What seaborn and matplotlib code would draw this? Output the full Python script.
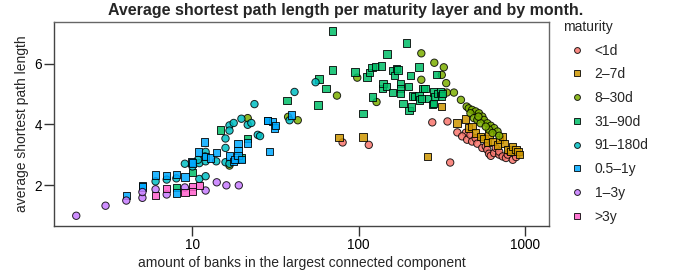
import pandas as pd
import matplotlib
matplotlib.use("Agg")
import matplotlib.pyplot as plt
import seaborn as sns
from matplotlib.ticker import FixedLocator, FuncFormatter, NullLocator

maturities = ["<1d", "2–7d", "8–30d", "31–90d", "91–180d", "0.5–1y", "1–3y", ">3y"]
colors = ["#F8766D", "#CD9600", "#7CAE00", "#00BE67",
          "#00BFC4", "#00A9FF", "#C77CFF", "#FF61CC"]
shapes = ["o", "s", "o", "s", "o", "s", "o", "s"]

# (banks in largest component, average shortest path length) per maturity layer
x_1d = [80, 115, 277, 342, 355, 392, 441, 419, 449, 470, 481, 505, 517, 554, 581,
        594, 608, 623, 653, 668, 700, 700, 734, 769, 788, 806, 845, 885]
y_1d = [3.41, 3.33, 4.07, 4.10, 2.75, 3.74, 3.73, 3.61, 3.50, 3.66, 3.44, 3.55, 3.37,
        3.23, 3.28, 3.17, 3.04, 2.97, 3.06, 3.23, 3.01, 3.11, 2.95, 2.90, 3.01, 3.11,
        2.84, 2.93]

x_7d = [76, 106, 259, 316, 390, 438, 459, 481, 505, 541, 567, 594, 608, 638, 684,
        700, 734, 751, 788, 825, 845, 885, 906, 927]
y_7d = [3.57, 3.59, 2.95, 4.59, 4.05, 4.18, 3.88, 3.93, 3.72, 3.61, 3.55, 3.41, 3.66,
        3.44, 3.33, 3.50, 3.61, 3.37, 3.17, 3.11, 3.28, 3.17, 3.11, 3.01]

x_30d = [21.5, 16.7, 37.6, 43, 74, 98, 128, 238, 238, 285, 325, 316, 336, 339, 374,
         412, 446, 459, 481, 505, 470, 529, 554, 493, 517, 567, 594, 541, 623, 653,
         608, 684, 638, 700, 581, 525]
y_30d = [4.21, 2.65, 4.25, 4.14, 4.95, 5.54, 4.74, 6.34, 5.47, 6.03, 5.88, 5.63, 5.36,
         5.05, 5.05, 4.81, 4.59, 4.53, 4.48, 4.43, 4.37, 4.37, 4.26, 4.21, 4.15, 4.15,
         4.04, 4.04, 3.96, 3.88, 3.83, 3.77, 3.72, 3.63, 3.93, 4.26]

x_90d = [8, 10, 14.8, 19.7, 21.5, 37, 57, 57.6, 63.5, 69.5, 69.5, 94.8, 106, 112, 116,
         120, 121, 126, 137, 139, 140, 147, 148, 160, 161, 164, 169, 172, 178, 178,
         178, 185, 194, 200, 201, 205, 208, 210, 217, 231, 231, 233, 239, 244, 250,
         262, 277, 281, 281, 288, 294, 300, 310, 315, 319]
y_90d = [1.93, 2.43, 3.82, 2.90, 3.55, 4.78, 4.64, 5.49, 5.19, 5.79, 7.07, 5.72, 4.36,
         5.56, 5.70, 5.87, 4.90, 5.90, 5.92, 5.19, 5.34, 5.24, 6.32, 5.05, 5.78, 5.60,
         5.84, 5.79, 5.34, 5.18, 5.02, 4.69, 6.68, 5.24, 4.47, 5.60, 4.58, 4.94, 4.92,
         4.94, 5.89, 4.80, 4.85, 5.18, 5.19, 4.85, 4.65, 5.07, 4.69, 4.91, 5.64, 5.02,
         5.07, 4.94, 5.01]

x_180d = [6, 7, 8, 9, 10, 11, 11, 12, 12, 12, 10.8, 13.9, 11.9, 15.8, 15.8, 15.8,
          16.7, 16.7, 17.7, 19.7, 21.5, 22.6, 23.6, 24.7, 25.5, 38.4, 41.1, 55, 16.7]
y_180d = [2.13, 2.19, 2.23, 2.71, 2.62, 2.73, 2.21, 3.10, 2.79, 2.30, 2.84, 2.79, 2.95,
          3.54, 3.23, 2.76, 3.97, 3.80, 4.05, 4.19, 3.99, 4.05, 4.67, 3.66, 3.62, 4.14,
          5.07, 5.39, 2.71]

x_1y = [4, 5, 5, 6, 7, 8, 8, 9, 9.9, 10, 10.9, 11.8, 12, 12.8, 13.9, 16.7, 17.7, 18,
        18.8, 18.8, 18.8, 19.7, 21.5, 28.2, 29.1, 30.4, 31.2, 31.5, 39.3, 28.4]
y_1y = [1.67, 2.00, 1.95, 2.34, 2.32, 2.35, 1.75, 2.27, 2.77, 2.73, 3.10, 3.42, 2.95,
        2.90, 3.08, 2.97, 2.79, 2.84, 3.37, 3.15, 2.99, 2.86, 3.39, 4.13, 3.11, 4.09,
        3.89, 3.96, 4.31, 4.14]

x_3y = [2, 3, 4, 5, 5, 6, 7, 9, 12, 14, 16, 19]
y_3y = [1.00, 1.33, 1.50, 1.59, 1.78, 1.87, 1.70, 1.93, 1.83, 2.10, 2.00, 2.00]

x_gt3y = [6, 7, 9, 10, 10, 11]
y_gt3y = [1.66, 1.90, 1.77, 1.97, 1.79, 1.99]

xs = [x_1d, x_7d, x_30d, x_90d, x_180d, x_1y, x_3y, x_gt3y]
ys = [y_1d, y_7d, y_30d, y_90d, y_180d, y_1y, y_3y, y_gt3y]

frames = []
for m, xv, yv in zip(maturities, xs, ys):
    frames.append(pd.DataFrame({"banks": xv, "path": yv, "maturity": m}))
df = pd.concat(frames, ignore_index=True)

sns.set_theme(style="ticks")
plt.rcParams["font.family"] = ["Liberation Sans", "DejaVu Sans"]

fig = plt.figure(figsize=(6.74, 2.75), dpi=100)
ax = fig.add_axes([0.0806, 0.18, 0.734, 0.739])

sns.scatterplot(data=df, x="banks", y="path", hue="maturity", style="maturity",
                hue_order=maturities, style_order=maturities,
                palette=dict(zip(maturities, colors)),
                markers=dict(zip(maturities, shapes)),
                s=28, alpha=0.85, edgecolor="black", linewidth=0.7, ax=ax)

ax.set_xscale("log")
ax.set_xlim(1.476, 1396)
ax.set_ylim(0.68, 7.36)
ax.xaxis.set_major_locator(FixedLocator([10, 100, 1000]))
ax.xaxis.set_major_formatter(FuncFormatter(lambda v, p: f"{int(v)}"))
ax.xaxis.set_minor_locator(NullLocator())
ax.set_yticks([2, 4, 6])

for name, sp in ax.spines.items():
    sp.set_visible(True)
    sp.set_color("#444444" if name in ("left", "bottom") else "#666666")
    sp.set_linewidth(1.0)
ax.tick_params(axis="both", direction="out", length=7, width=1.0,
               color="#333333", labelsize=9.8, labelcolor="black", pad=2)

ax.set_xlabel("amount of banks in the largest connected component", fontsize=10,
              labelpad=3)
ax.set_ylabel("average shortest path length", fontsize=10, labelpad=4)
fig.text(0.513, 0.962, "Average shortest path length per maturity layer and by month.",
         ha="center", va="center", fontsize=11.5, fontweight="bold")

sns.move_legend(ax, "upper left", bbox_to_anchor=(1.008, 1.06), frameon=False,
                title="maturity", fontsize=10, title_fontsize=10,
                labelspacing=0.7, handletextpad=0.3, markerscale=0.8,
                borderpad=0.2)
leg = ax.get_legend()
leg._legend_box.align = "left"

fig.savefig("out.png", dpi=100)
